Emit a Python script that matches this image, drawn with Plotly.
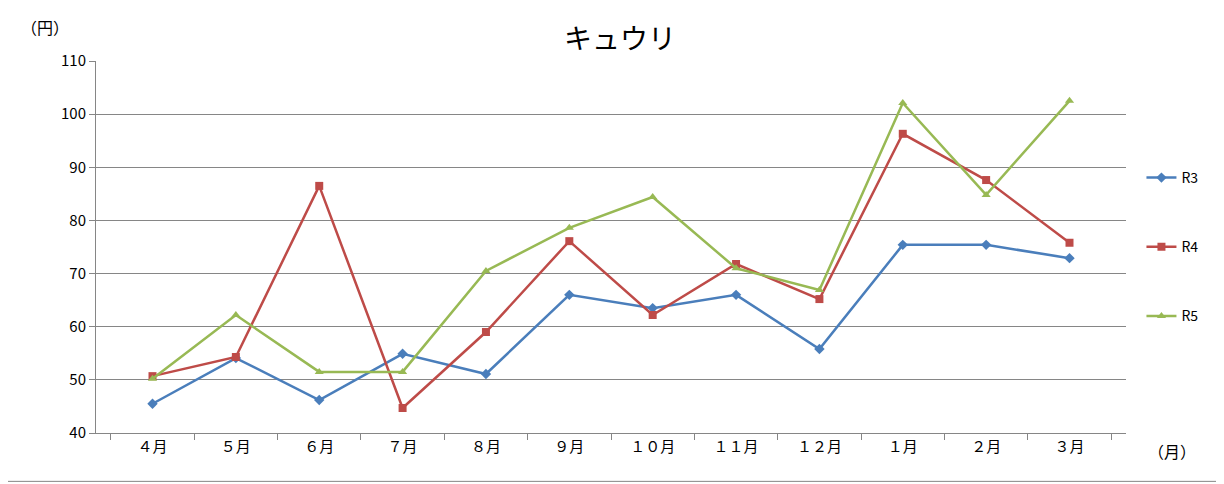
import plotly.graph_objects as go

months = ["４月","５月","６月","７月","８月","９月","１０月","１１月","１２月","１月","２月","３月"]
r3 = [45.5,54.1,46.2,54.9,51.1,66.0,63.5,66.0,55.8,75.4,75.4,72.9]
r4 = [50.7,54.3,86.5,44.7,59.0,76.1,62.2,71.8,65.2,96.3,87.6,75.8]
r5 = [50.2,62.2,51.5,51.5,70.5,78.6,84.4,71.0,66.9,102.1,84.8,102.5]

font = "Noto Sans CJK JP"
fig = go.Figure()
for name, vals, col, sym in [("R3", r3, "#4A7EBB", "diamond"), ("R4", r4, "#BE4B48", "square"), ("R5", r5, "#98B954", "triangle-up")]:
    fig.add_trace(go.Scatter(x=months, y=vals, name=name, legendgroup=name, mode="lines+markers",
                             line=dict(color=col, width=2.5), marker=dict(symbol=sym, size=8, color=col)))

fig.update_layout(
    width=1224, height=484, paper_bgcolor="white", plot_bgcolor="white",
    margin=dict(l=88, r=106, t=53, b=59),
    font=dict(family=font, size=15, color="black"),
    title=dict(text="キュウリ", x=0.5, xanchor="center", y=0.935, yanchor="middle", font=dict(size=28, family=font)),
    legend=dict(x=1.015, y=0.5, yanchor="middle", font=dict(size=14), tracegroupgap=48, itemwidth=30),
    xaxis=dict(type="category", showgrid=False, showline=True, linecolor="#868686",
               ticks="outside", tickson="boundaries", ticklen=6, tickcolor="#868686"),
    yaxis=dict(range=[40, 110], dtick=10, showgrid=True, gridcolor="#868686", gridwidth=1,
               showline=True, linecolor="#868686", ticks="outside", ticklen=6, tickcolor="#868686"),
    annotations=[
        dict(text="（円）", xref="paper", yref="paper", x=-0.05, y=1.13, showarrow=False, font=dict(size=16), xanchor="center"),
        dict(text="（月）", xref="paper", yref="paper", x=1.045, y=-0.085, showarrow=False, font=dict(size=16), xanchor="center"),
    ],
    shapes=[dict(type="rect", xref="paper", yref="paper", x0=-0.0893, x1=1.0951, y0=-0.13, y1=1.158,
                 line=dict(color="#868686", width=1))],
)
fig.write_html("out.html")
